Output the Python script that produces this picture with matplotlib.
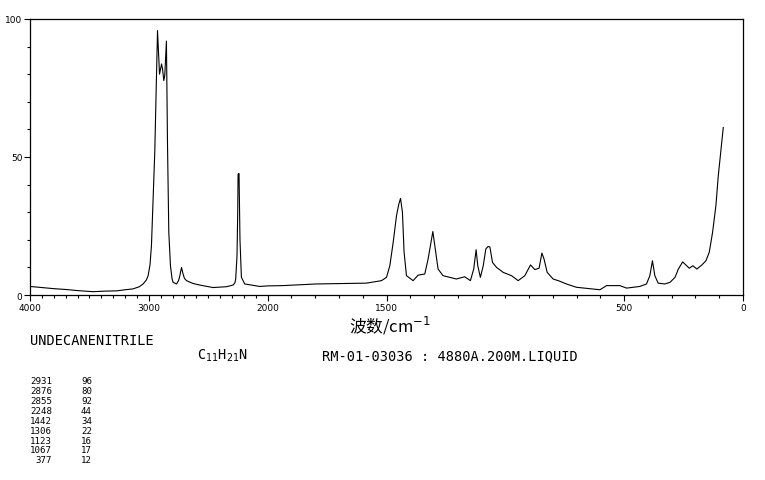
import numpy as np
import matplotlib
matplotlib.use('Agg')
import matplotlib.pyplot as plt
from matplotlib.ticker import FixedLocator

# 光谱数据
wn = [4000, 3900, 3800, 3700, 3600, 3470, 3370, 3270, 3200, 3134, 3080, 3048, 3020,
      3006, 2990, 2978, 2964, 2950, 2935, 2927,
      2919, 2910, 2893, 2885, 2874, 2866, 2852, 2843, 2832, 2818, 2805, 2796, 2767, 2750,
      2739, 2725, 2712, 2700, 2683, 2630, 2571, 2460, 2347, 2291, 2275, 2269, 2258, 2252,
      2249, 2241, 2236, 2233, 2221,
      2193, 2067, 2000, 1937, 1795, 1584, 1521, 1500, 1486, 1472, 1458, 1448, 1441, 1433,
      1426, 1416, 1388, 1367, 1339, 1325, 1315, 1305, 1297, 1283, 1262, 1206, 1171,
      1147, 1133, 1123, 1116, 1105, 1093, 1082, 1072, 1065, 1054, 1037, 1009, 974,
      946, 918, 894, 876, 858, 846, 837, 824, 799, 771, 743, 701, 602, 574, 518,
      490, 434, 406, 392, 381, 371, 357, 329, 307, 286, 272, 254, 237, 226, 211,
      194, 173, 156, 142, 128, 114, 104, 94, 83]
inten = [3.1, 2.7, 2.3, 2.0, 1.6, 1.2, 1.4, 1.5, 1.9, 2.2, 3.0, 4.0, 5.5,
         7.0, 11.0, 17.9, 34.8, 51.8, 81.3, 95.8,
         88.0, 80.0, 83.7, 82.0, 77.7, 79.5, 92.0, 55.0, 22.7, 10.6, 6.0, 4.6, 4.0, 5.2,
         7.0, 10.0, 7.6, 6.0, 5.2, 4.2, 3.6, 2.7, 3.0, 3.6, 4.5, 5.8, 14.2, 30.0,
         43.8, 44.0, 30.0, 20.0, 6.4,
         4.0, 3.1, 3.3, 3.4, 4.0, 4.3, 5.2, 6.4, 10.6, 19.0, 28.7, 33.0, 35.0, 30.0,
         15.5, 7.0, 5.2, 7.2, 7.6, 13.0, 17.9, 23.0, 18.0, 9.4, 7.0, 5.8, 6.6,
         5.2, 9.4, 16.4, 10.6, 6.4, 10.6, 16.7, 17.6, 17.4, 11.8, 10.0, 8.2, 7.0,
         5.2, 7.0, 10.9, 9.2, 9.7, 15.2, 13.0, 8.2, 5.8, 5.0, 4.0, 2.8, 1.9, 3.4, 3.4,
         2.5, 3.1, 4.0, 7.0, 12.4, 7.0, 4.3, 4.0, 4.6, 6.4, 9.4, 12.0, 10.6, 9.7, 10.6,
         9.4, 10.9, 12.4, 15.5, 22.7, 32.4, 43.2, 51.7, 60.7]

# 峰值表
peak_wn = ['2931', '2876', '2855', '2248', '1442', '1306', '1123', '1067', '377']
peak_int = ['96', '80', '92', '44', '34', '22', '16', '17', '12']

xtick_labels = {4000: '4000', 3000: '3000', 2000: '2000', 1500: '1500', 500: '500', 0: '0'}

W, H = 765, 481


# 2000 以上压缩一半
def fwd(w):
    w = np.asarray(w, dtype=float)
    return np.where(w > 2000, 2000 + (w - 2000) / 2, w)


def inv(t):
    t = np.asarray(t, dtype=float)
    return np.where(t > 2000, 2000 + (t - 2000) * 2, t)


fig = plt.figure(figsize=(W / 100, H / 100), dpi=100)
ax = fig.add_axes([30 / W, 1 - 296 / H, (743 - 30) / W, (296 - 20) / H])
ax.set_xscale('function', functions=(fwd, inv))
ax.plot(wn, inten, color='black', lw=0.8)
ax.set_xlim(4000, 0)
ax.set_ylim(0, 100)

ax.xaxis.set_major_locator(FixedLocator(list(xtick_labels.keys())))
ax.set_xticklabels(list(xtick_labels.values()))
ax.xaxis.set_minor_locator(FixedLocator(list(range(0, 4001, 100))))
ax.set_yticks([0, 50, 100])
ax.yaxis.set_minor_locator(FixedLocator(list(range(0, 101, 10))))
ax.tick_params(which='major', direction='out', length=4, width=0.8, labelsize=6.5, pad=1.5)
ax.tick_params(which='minor', direction='out', length=2.5, width=0.8)
for s in ax.spines.values():
    s.set_linewidth(0.9)

fig.text(390 / W, 1 - 326 / H, '波数/cm$^{-1}$', ha='center', va='center', fontsize=12,
         family=['Noto Sans CJK SC', 'DejaVu Sans'])

mono = 'DejaVu Sans Mono'
fig.text(30 / W, 1 - 341 / H, 'UNDECANENITRILE', ha='left', va='center', fontsize=9.8, family=mono)
fig.text(197 / W, 1 - 356 / H, 'C$_{11}$H$_{21}$N', ha='left', va='center', fontsize=9.8, family=mono)
fig.text(322 / W, 1 - 356 / H, 'RM-01-03036 : 4880A.200M.LIQUID', ha='left', va='center',
         fontsize=9.8, family=mono)

for i, (a, b) in enumerate(zip(peak_wn, peak_int)):
    y = 1 - (382 + i * 9.85) / H
    fig.text(52 / W, y, a, ha='right', va='center', fontsize=6.6, family=mono)
    fig.text(92 / W, y, b, ha='right', va='center', fontsize=6.6, family=mono)

fig.savefig('out.png', dpi=100)
